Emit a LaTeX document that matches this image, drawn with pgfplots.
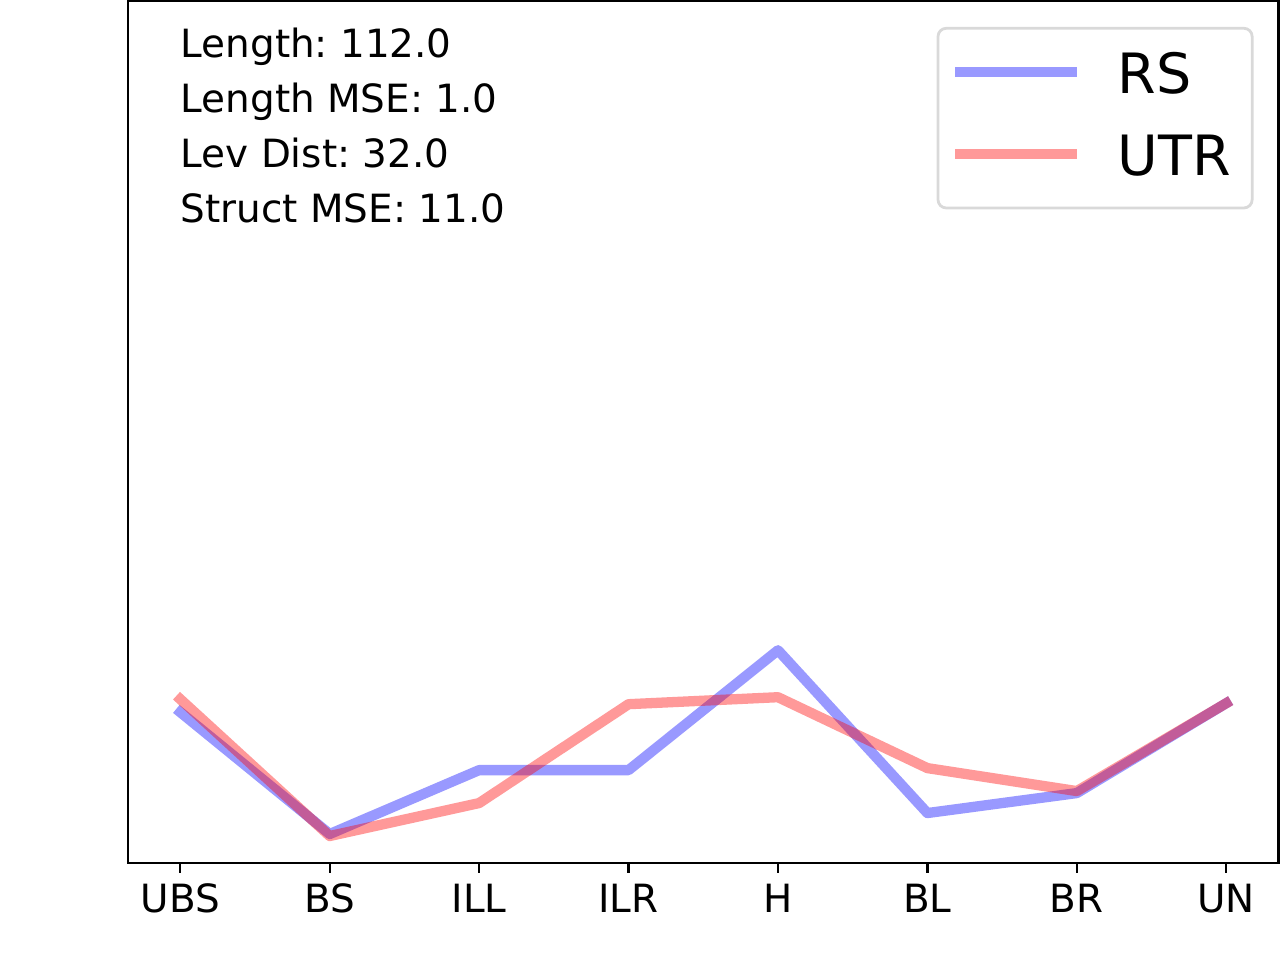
\documentclass[border=0pt]{standalone}
\usepackage{pgfplots}
\pgfplotsset{compat=1.18}
\usepackage{fontspec}
\setmainfont{DejaVu Sans}
\frenchspacing
\definecolor{rsblue}{rgb}{0,0,1}
\definecolor{utrred}{rgb}{1,0,0}
\begin{document}
\frenchspacing
\begin{tikzpicture}
\useasboundingbox (0pt,0pt) rectangle (460.8pt,345.6pt);
\begin{axis}[
  at={(46.08pt,34.92pt)}, anchor=south west,
  scale only axis, width=414.2pt, height=310.3pt,
  xmin=-0.35, xmax=7.35, ymin=0, ymax=863,
  xtick={0,1,2,3,4,5,6,7},
  xticklabels={UBS,BS,ILL,ILR,H,BL,BR,UN},
  ytick=\empty,
  axis line style={line width=0.8pt, black},
  tick style={line width=0.8pt, black},
  major tick length=3.5pt,
  tick align=outside, xtick pos=bottom,
  xticklabel style={font=\fontsize{14}{16.8}\selectfont, inner sep=0pt, text height=10.2pt, text depth=0pt, anchor=north, yshift=-4.1pt},
  legend style={at={(axis description cs:1,1)}, anchor=north east, xshift=-9.0pt, yshift=-9.3pt,
    draw=black!15, line width=1pt, rounded corners=3pt,
    font=\fontsize{20}{24}\selectfont,
    inner xsep=4.3pt, inner ysep=8.8pt, row sep=11.9pt,
    nodes={inner sep=0pt, text height=14.6pt, text depth=3pt},
    /tikz/every odd column/.append style={column sep=12.8pt},
    /tikz/every even column/.append style={nodes={text width=44pt}}},
  legend cell align=left,
  legend image code/.code={\draw[#1, line cap=butt] (0pt,1.8pt) -- (44pt,1.8pt);},
]
\addplot[draw=rsblue, draw opacity=0.4, line width=3.7pt, line cap=rect, line join=round] coordinates {
(0,151) (1,29) (2,93) (3,93) (4,213) (5,50) (6,70) (7,160)};
\addlegendentry{RS}
\addplot[draw=utrred, draw opacity=0.4, line width=3.7pt, line cap=rect, line join=round] coordinates {
(0,164) (1,27) (2,60) (3,159) (4,166) (5,95) (6,72) (7,160)};
\addlegendentry{UTR}
\node[anchor=base west, inner sep=0pt, font=\fontsize{14}{16.8}\selectfont, xshift=18.8pt, yshift=-20.2pt] at (axis description cs:0,1) {Length: 112.0};
\node[anchor=base west, inner sep=0pt, font=\fontsize{14}{16.8}\selectfont, xshift=18.8pt, yshift=-40.0pt] at (axis description cs:0,1) {Length MSE: 1.0};
\node[anchor=base west, inner sep=0pt, font=\fontsize{14}{16.8}\selectfont, xshift=18.8pt, yshift=-59.8pt] at (axis description cs:0,1) {Lev Dist: 32.0};
\node[anchor=base west, inner sep=0pt, font=\fontsize{14}{16.8}\selectfont, xshift=18.8pt, yshift=-79.6pt] at (axis description cs:0,1) {Struct MSE: 11.0};
\end{axis}
\end{tikzpicture}
\end{document}
